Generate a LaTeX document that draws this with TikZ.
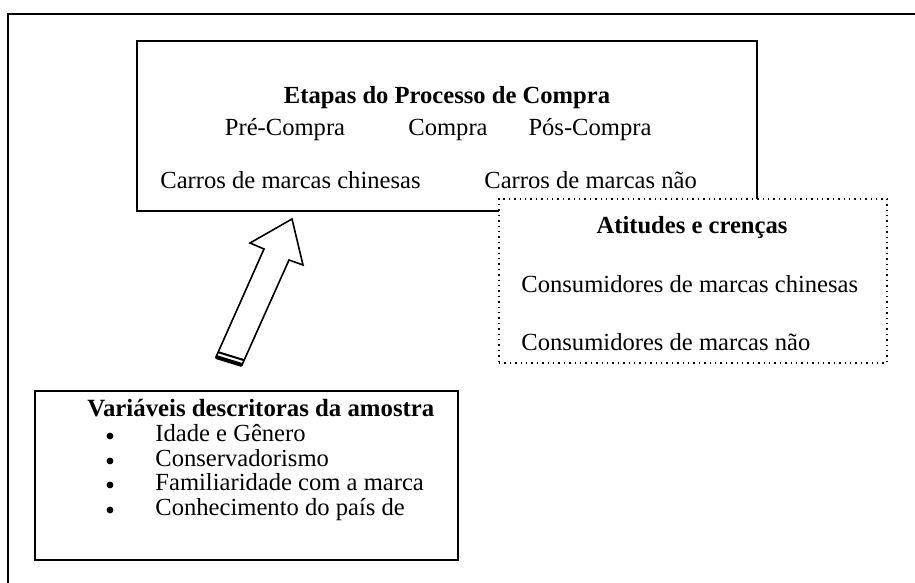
\documentclass[tikz,border=0pt]{standalone}
\usepackage{fontspec}
\setmainfont{Liberation Serif}
\usetikzlibrary{fit}
\begin{document}
\begin{tikzpicture}[x=0.5pt,y=-0.5pt,
  frameline/.style={line width=1pt},
  solidbox/.style={draw, line width=1pt, fill=white, inner sep=0pt},
  dotbox/.style={draw, dotted, line width=0.7pt, fill=white, inner sep=0pt},
  txt/.style={anchor=base west, inner sep=0pt, font=\fontsize{12.3}{14}\selectfont},
  ctxt/.style={anchor=base, inner sep=0pt, font=\fontsize{12.3}{14}\selectfont},
  ttl/.style={anchor=base, inner sep=0pt, font=\fontsize{12.3}{14}\selectfont\bfseries},
  bul/.style={circle, fill=black, inner sep=0pt, minimum size=3.4pt},
  blockarrow/.style={draw, line width=0.8pt, fill=white, line join=miter}]
\useasboundingbox (0,0) rectangle (915,583);
% outer frame (only top and left visible)
\coordinate (ftl) at (8,14);
\coordinate (ftr) at (915,14);
\coordinate (fbl) at (8,583);
\draw[frameline] (ftr) -- (ftl) -- (fbl);

% top box
\node[solidbox, fit={(137,41)(757,211)}] (etapas) {};
\node[ttl] (etapasT) at (447,104) {Etapas do Processo de Compra};
\node[ctxt] (pre) at (285,135) {Pré-Compra};
\node[ctxt] (compra) at (448,135) {Compra};
\node[ctxt] (pos) at (590,135) {Pós-Compra};
\node[txt] (cchin) at (160,188) {Carros de marcas chinesas};
\node[txt] (cnao) at (484,188) {Carros de marcas não};

% dotted box
\node[dotbox, fit={(499,199)(887,363)}] (atitudes) {};
\node[ttl] (atitT) at (692,233) {Atitudes e crenças};
\node[txt] (conschin) at (521,292) {Consumidores de marcas chinesas};
\node[txt] (consnao) at (521,350) {Consumidores de marcas não};

% bottom box
\node[solidbox, fit={(35,391)(458,560)}] (vars) {};
\node[txt, font=\fontsize{12.4}{14}\selectfont\bfseries] (varsT) at (87,416) {Variáveis descritoras da amostra};
\node[bul] (b1) at (110,436) {};
\node[txt] (v1) at (155,441) {Idade e Gênero};
\node[bul] (b2) at (110,461) {};
\node[txt] (v2) at (155,466) {Conservadorismo};
\node[bul] (b3) at (110,485) {};
\node[txt] (v3) at (155,490) {Familiaridade com a marca};
\node[bul] (b4) at (110,510) {};
\node[txt] (v4) at (155,515) {Conhecimento do país de};

% block arrow
\coordinate (abl) at (216,357);
\coordinate (ail) at (264,249);
\coordinate (alb) at (250,243);
\coordinate (atip) at (292,219);
\coordinate (arb) at (303,265);
\coordinate (air) at (289,260);
\coordinate (abr) at (242,365);
\coordinate (bbl) at (218.2,352.2);
\coordinate (bbr) at (244.2,360.2);
\draw[blockarrow] (abl) -- (ail) -- (alb) -- (atip) -- (arb) -- (air) -- (abr) -- cycle;
\draw[line width=2pt] (abl) -- (abr);
\draw[line width=1pt] (bbl) -- (bbr);
\end{tikzpicture}
\end{document}
